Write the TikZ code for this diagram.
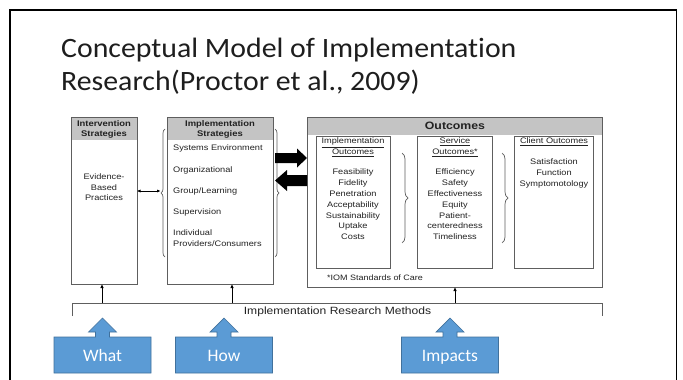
\documentclass[tikz,border=0pt]{standalone}
\usepackage{fontspec}
\setmainfont{Carlito}[Ligatures=NoCommon]
\newfontfamily\titlefont{Carlito}[Ligatures=NoCommon, FakeStretch=1.065]
\newfontfamily\dg[FakeStretch=1.15]{Liberation Sans}
\usetikzlibrary{arrows.meta,decorations.pathreplacing}
\definecolor{boxgray}{HTML}{5E5E5E}
\definecolor{hdrgray}{HTML}{C4C4C4}
\definecolor{txtgray}{HTML}{222222}
\definecolor{callblue}{HTML}{5B9BD5}
\definecolor{callborder}{HTML}{41719C}
\definecolor{titlecol}{HTML}{1E1E1E}
\newcommand\mycallout[3]{%
  \path[callout] ({#1-48.5},373) -- ({#1-48.5},337) -- ({#1-7},337) -- ({#1-7},332) -- ({#1-14},332) -- (#1,318) -- ({#1+14},332) -- ({#1+7},332) -- ({#1+7},337) -- ({#1+48.5},337) -- ({#1+48.5},373) -- cycle;
  \node[calltext] (#2) at (#1,361.5) {#3};
}
\begin{document}
\begin{tikzpicture}[x=1pt,y=-1pt,
  box/.style={draw=boxgray, line width=1pt, inner sep=0pt, outer sep=0pt, anchor=north west},
  inbox/.style={draw=boxgray, line width=0.9pt, inner sep=0pt, outer sep=0pt, anchor=north west},
  hdr/.style={fill=hdrgray},
  hdrtxt/.style={font=\dg\bfseries\fontsize{8.2}{10}\selectfont, text=txtgray, align=center, inner sep=0pt},
  smalltxt/.style={font=\dg\fontsize{8}{10.8}\selectfont, text=txtgray, align=center, inner sep=0pt},
  lefttxt/.style={font=\dg\fontsize{8}{10.8}\selectfont, text=txtgray, align=left, inner sep=0pt, anchor=west},
  bracebig/.style={decorate, decoration={brace, amplitude=4pt}, draw=boxgray, line width=0.7pt},
  braceout/.style={decorate, decoration={brace, amplitude=6pt}, draw=boxgray, line width=0.7pt},
  blockarrow/.style={fill=black},
  thinarrow/.style={draw=black, line width=0.8pt, -{Latex[length=4pt,width=3.5pt]}},
  callout/.style={fill=callblue, draw=callborder, line width=0.7pt},
  calltext/.style={font=\fontsize{17.5}{20}\selectfont, text=white, inner sep=0pt, anchor=base},
  titletxt/.style={font=\titlefont\fontsize{28}{33}\selectfont, text=titlecol, inner sep=0pt, anchor=base west}
]
\path[use as bounding box] (0,0) rectangle (683,380);
\clip (0,0) rectangle (683,380);
\fill[white] (0,0) rectangle (683,380);
% slide frame
\draw[line width=1.8pt, black] (10,400) -- (10,10) -- (676.5,10) -- (676.5,400);

% title
\node[titletxt] (title1) at (61,57) {Conceptual Model of Implementation};
\node[titletxt] (title2) at (61,90) {Research(Proctor et al., 2009)};

% Intervention strategies
\fill[hdr] (71,117) rectangle (137,140);
\node[box, minimum width=66pt, minimum height=167pt] (interv) at (71,117) {};
\node[hdrtxt] (intervhdr) at (104,129) {Intervention\\Strategies};
\node[smalltxt, font=\dg\fontsize{8}{10.5}\selectfont] (ebp) at (104,187.5) {Evidence-\\Based\\Practices};

% Implementation strategies
\fill[hdr] (167,117) rectangle (273,140);
\node[box, minimum width=106pt, minimum height=167pt] (implstr) at (167,117) {};
\node[hdrtxt] (implhdr) at (220,129) {Implementation\\Strategies};
\node[lefttxt] (s1) at (173,148) {Systems Environment};
\node[lefttxt] (s2) at (173,170) {Organizational};
\node[lefttxt] (s3) at (173,191) {Group/Learning};
\node[lefttxt] (s4) at (173,212) {Supervision};
\node[lefttxt] (s5) at (173,238.5) {Individual\\Providers/Consumers};
\draw[bracebig] (165,257) -- (165,129);
\draw[bracebig] (275,129) -- (275,257);
\coordinate (lbtip) at (160.5,191);
\draw[draw=black, line width=0.8pt, {Latex[length=3.5pt,width=3.2pt]}-{Latex[length=3.5pt,width=3.2pt]}] (interv.east |- lbtip) -- (lbtip);

% Outcomes
\fill[hdr] (307,117) rectangle (602,135);
\node[box, minimum width=295pt, minimum height=170pt] (outc) at (307,117) {};
\node[font=\dg\bfseries\fontsize{10.7}{12}\selectfont, text=txtgray, inner sep=0pt] (outchdr) at (455,126) {Outcomes};

% big arrows between strategies and outcomes
\path[blockarrow] (275,153) -- (297,153) -- (297,148.5) -- (307,158) -- (297,167.5) -- (297,163) -- (275,163) -- cycle;
\path[blockarrow] (307,175) -- (287,175) -- (287,170) -- (275,180.5) -- (287,191) -- (287,186) -- (307,186) -- cycle;

% Implementation outcomes
\node[inbox, minimum width=74pt, minimum height=132pt] (implout) at (316,136) {};
\node[smalltxt, font=\dg\fontsize{8}{11}\selectfont] (impltit) at (353,147.5) {\underline{Implementation}\\\underline{Outcomes}};
\node[smalltxt] (impllist) at (353,204.5) {Feasibility\\Fidelity\\Penetration\\Acceptability\\Sustainability\\Uptake\\Costs};

% Service outcomes
\node[inbox, minimum width=75pt, minimum height=132pt] (servout) at (417,136) {};
\node[smalltxt, font=\dg\fontsize{8}{11}\selectfont] (servtit) at (455,147.5) {\underline{Service}\\\underline{Outcomes*}};
\node[smalltxt] (servlist) at (455,204.5) {Efficiency\\Safety\\Effectiveness\\Equity\\Patient-\\centeredness\\Timeliness};

% Client outcomes
\node[inbox, minimum width=79pt, minimum height=132pt] (cliout) at (514,136) {};
\node[smalltxt] (clitit) at (554,142) {\underline{Client Outcomes}};
\node[smalltxt] (clilist) at (554,173.5) {Satisfaction\\Function\\Symptomotology};

\draw[braceout] (402,153) -- (402,243);
\draw[braceout] (502,153) -- (502,243);

\node[font=\dg\fontsize{7.8}{9}\selectfont, text=txtgray, inner sep=0pt, anchor=west] (iom) at (327,278) {*IOM Standards of Care};

% Implementation research methods
\draw[draw=boxgray, line width=1pt] (72,316) -- (72,303) -- (602,303) -- (602,316);
\node[font=\dg\fontsize{10.5}{12}\selectfont, text=txtgray, inner sep=0pt] (irm) at (337.5,311.5) {Implementation Research Methods};
\coordinate (b1) at (102,303);
\coordinate (b2) at (232,303);
\coordinate (b3) at (455,303);
\draw[thinarrow] (b1) -- (b1 |- interv.south);
\draw[thinarrow] (b2) -- (b2 |- implstr.south);
\draw[thinarrow] (b3) -- (b3 |- outc.south);

% callouts
\mycallout{102.5}{what}{What}
\mycallout{224}{how}{How}
\mycallout{450}{impacts}{Impacts}
\end{tikzpicture}
\end{document}
